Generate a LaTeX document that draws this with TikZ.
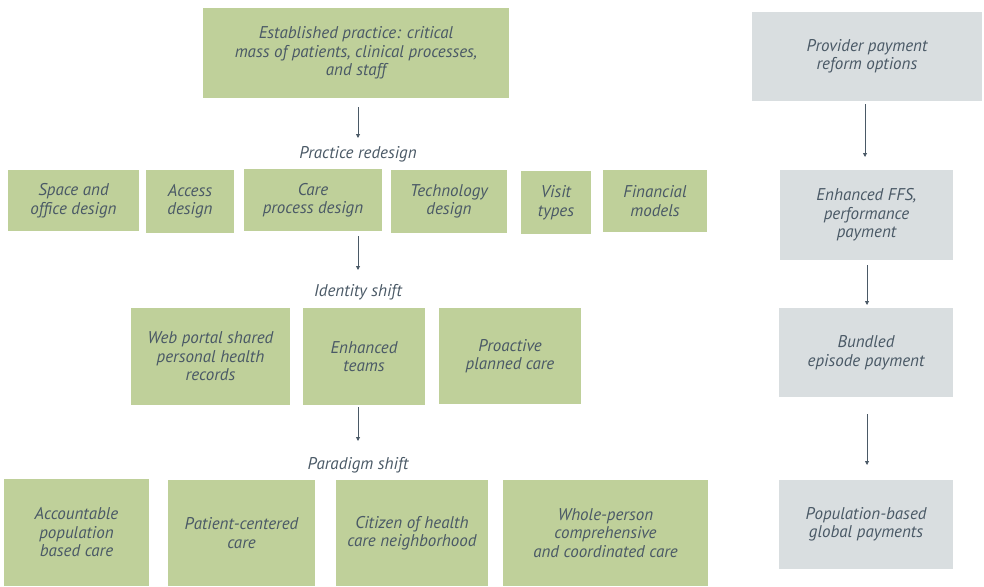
\documentclass[tikz,border=0pt]{standalone}
\usepackage{fontspec}
\setmainfont{PT Sans}
\usetikzlibrary{arrows.meta}
\definecolor{grn}{HTML}{BFD09A}
\definecolor{gry}{HTML}{D9DEE0}
\definecolor{txt}{HTML}{4A5966}
\tikzset{
  bx/.style={inner sep=0pt, text=txt, font=\itshape\fontsize{17}{18.5}\selectfont, align=center},
  gbox/.style={bx, fill=grn},
  pbox/.style={bx, fill=gry},
  lbl/.style={text=txt, font=\itshape\fontsize{17}{18.5}\selectfont},
  arr/.style={draw=txt, line width=0.9pt, -{Triangle[length=4pt,width=4pt]}}
}
\begin{document}
\begin{tikzpicture}[x=1pt,y=-1pt]
\useasboundingbox (0,0) rectangle (984,586);
% top
\node[gbox, minimum width=306pt, minimum height=90pt] (est) at (356,53) {Established practice: critical\\mass of patients, clinical processes,\\and staff};
\node[lbl] (pr) at (358,154) {Practice redesign};
\coordinate (c1s) at (358,107);
\coordinate (c1e) at (358,138);
\draw[arr] (c1s) -- (c1e);
% row 2
\node[gbox, minimum width=131pt, minimum height=61pt] (space) at (73.5,200.5) {Space and\\office design};
\node[gbox, minimum width=88pt, minimum height=63pt] (access) at (190,201.5) {Access\\design};
\node[gbox, minimum width=138pt, minimum height=62pt] (care) at (313,200) {Care\\process design};
\node[gbox, minimum width=116pt, minimum height=63pt] (tech) at (449,201.5) {Technology\\design};
\node[gbox, minimum width=70pt, minimum height=63pt] (visit) at (556,202.5) {Visit\\types};
\node[gbox, minimum width=104pt, minimum height=62pt] (fin) at (655,201) {Financial\\models};
\coordinate (c2s) at (358,236);
\coordinate (c2e) at (358,270);
\draw[arr] (c2s) -- (c2e);
\node[lbl] (id) at (358,292) {Identity shift};
% row 3
\node[gbox, minimum width=159pt, minimum height=97pt] (web) at (210.5,356.5) {Web portal shared\\personal health\\records};
\node[gbox, minimum width=122pt, minimum height=97pt] (team) at (364,356.5) {Enhanced\\teams};
\node[gbox, minimum width=142pt, minimum height=96pt] (proa) at (510,356) {Proactive\\planned care};
\coordinate (c3s) at (358,407);
\coordinate (c3e) at (358,441);
\draw[arr] (c3s) -- (c3e);
\node[lbl] (para) at (358,465) {Paradigm shift};
% row 4
\node[gbox, minimum width=145pt, minimum height=107pt] (acc) at (76.5,532.5) {Accountable\\population\\based care};
\node[gbox, minimum width=147pt, minimum height=106pt] (pat) at (241.5,533) {Patient-centered\\care};
\node[gbox, minimum width=152pt, minimum height=106pt] (cit) at (412,533) {Citizen of health\\care neighborhood};
\node[gbox, minimum width=205pt, minimum height=106pt] (whole) at (605.5,533) {Whole-person\\comprehensive\\and coordinated care};
% right column
\node[pbox, minimum width=230pt, minimum height=89pt] (prov) at (867,56.5) {Provider payment\\reform options};
\node[pbox, minimum width=173pt, minimum height=90pt] (ffs) at (866.5,215) {Enhanced FFS,\\performance\\payment};
\node[pbox, minimum width=174pt, minimum height=89pt] (bund) at (866,352.5) {Bundled\\episode payment};
\node[pbox, minimum width=174pt, minimum height=89pt] (pop) at (866,524.5) {Population-based\\global payments};
\coordinate (r1s) at (865,104);
\coordinate (r1e) at (865,157);
\coordinate (r2s) at (867,265);
\coordinate (r2e) at (867,305);
\coordinate (r3s) at (867,414);
\coordinate (r3e) at (867,465);
\draw[arr] (r1s) -- (r1e);
\draw[arr] (r2s) -- (r2e);
\draw[arr] (r3s) -- (r3e);
\end{tikzpicture}
\end{document}
